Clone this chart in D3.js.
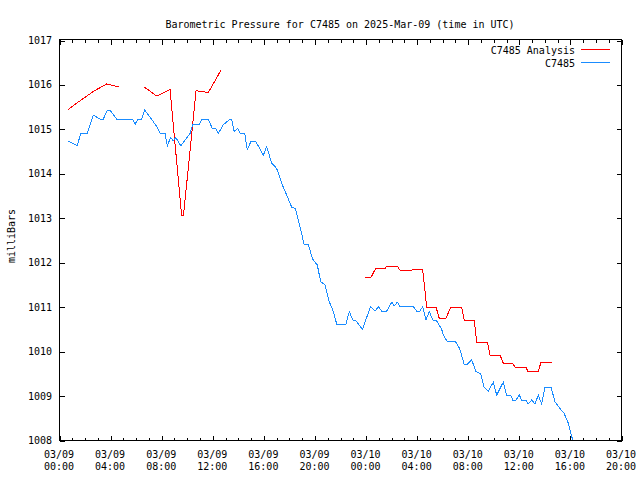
<!DOCTYPE html>
<html><head><meta charset="utf-8">
<script src="https://cdn.jsdelivr.net/npm/d3@7"></script>
<style>body{margin:0;background:#fff}svg text{font-family:"DejaVu Sans Mono","Liberation Mono",monospace;font-size:10px;fill:#000}</style>
</head><body>
<script>
const title = "Barometric Pressure for C7485 on 2025-Mar-09 (time in UTC)";
const yLabel = "milliBars";
const seriesNames = ["C7485 Analysis", "C7485"];
const seriesColors = ["#ff0000", "#1a8cff"];
const yTickValues = [1008, 1009, 1010, 1011, 1012, 1013, 1014, 1015, 1016, 1017];
const xTickHours = [0, 4, 8, 12, 16, 20, 24, 28, 32, 36, 40, 44];
const xTickDates = ["03/09", "03/09", "03/09", "03/09", "03/09", "03/09", "03/10", "03/10", "03/10", "03/10", "03/10", "03/10"];
const xTickTimes = ["00:00", "04:00", "08:00", "12:00", "16:00", "20:00", "00:00", "04:00", "08:00", "12:00", "16:00", "20:00"];

// hours since 2025-03-09 00:00 UTC; null = gap
const analysisHours = [0.73, 1.73, 2.73, 3.73, 4.70, 5.70,
  6.68, 7.65, 8.69, 9.60, 9.75, 10.73, 11.69, 12.68, 13.70,
  23.96, 24.43, 24.79, 25.52, 25.66, 26.49, 26.70, 27.61, 27.69, 28.47, 28.79, 29.52, 29.77, 30.30,
  30.67, 31.53, 31.73, 32.51, 32.70, 33.55, 33.74, 34.53, 34.78, 35.52, 35.70, 36.56, 36.70, 37.52, 37.74, 38.57];
const analysisValues = [1015.44, 1015.65, 1015.85, 1016.01, 1015.94, null,
  1015.94, 1015.74, 1015.89, 1013.06, 1013.06, 1015.86, 1015.82, 1016.32, null,
  1011.66, 1011.66, 1011.86, 1011.86, 1011.91, 1011.91, 1011.82, 1011.82, 1011.84, 1011.84, 1010.99, 1010.99, 1010.74, 1010.74,
  1010.99, 1010.99, 1010.70, 1010.70, 1010.20, 1010.20, 1009.91, 1009.91, 1009.73, 1009.73, 1009.64, 1009.64, 1009.55, 1009.55, 1009.75, 1009.75];

const obsHours = [0.73, 1.43, 1.70, 2.22, 2.69, 3.21, 3.47, 3.78, 3.99, 4.52, 5.77, 5.97, 6.18, 6.47, 6.71, 7.12, 7.65, 7.91, 8.30, 8.48,
  8.75, 8.95, 9.14, 9.53, 10.00, 10.26, 10.47, 10.96, 11.22, 11.69, 12.00, 12.27, 12.47, 12.86, 13.39, 13.52, 13.72, 13.99, 14.17, 14.54,
  14.74, 15.01, 15.42, 16.00, 16.26, 16.65, 17.04, 17.51, 17.83, 18.22, 18.50, 18.87, 19.18, 19.52, 19.86, 20.22, 20.49, 20.83, 21.16, 21.48,
  21.74, 22.47, 22.73, 22.99, 23.25, 23.76, 24.39, 24.74, 25.00, 25.26, 25.66, 26.05, 26.25, 26.49, 26.70, 27.74, 28.00, 28.26, 28.47, 28.73,
  28.99, 29.26, 29.57, 29.96, 30.09, 30.40, 31.04, 31.37, 31.71, 31.97, 32.31, 32.65, 33.02, 33.27, 33.61, 34.00, 34.27, 34.78, 35.05, 35.36,
  35.52, 35.78, 36.04, 36.22, 36.56, 36.74, 37.01, 37.27, 37.52, 37.79, 38.05, 38.52, 38.83, 39.22, 39.54, 39.87, 40.40];
const obsValues = [1014.73, 1014.62, 1014.90, 1014.90, 1015.31, 1015.22, 1015.22, 1015.42, 1015.42, 1015.22, 1015.22, 1015.11, 1015.22, 1015.22, 1015.42, 1015.27, 1015.05, 1014.90, 1014.90, 1014.62,
  1014.81, 1014.73, 1014.81, 1014.62, 1014.80, 1014.90, 1015.10, 1015.10, 1015.22, 1015.22, 1015.01, 1015.01, 1014.90, 1015.09, 1015.22, 1015.22, 1014.94, 1015.01, 1014.90, 1014.90,
  1014.53, 1014.71, 1014.71, 1014.41, 1014.60, 1014.23, 1014.11, 1013.72, 1013.51, 1013.24, 1013.21, 1012.80, 1012.41, 1012.39, 1012.07, 1011.94, 1011.56, 1011.49, 1011.11, 1010.89,
  1010.61, 1010.61, 1010.89, 1010.70, 1010.68, 1010.49, 1011.00, 1010.90, 1011.00, 1010.90, 1010.90, 1011.10, 1011.02, 1011.10, 1011.00, 1011.00, 1010.90, 1010.90, 1011.00, 1010.70,
  1010.89, 1010.70, 1010.68, 1010.49, 1010.36, 1010.21, 1010.21, 1010.06, 1009.71, 1009.71, 1009.80, 1009.54, 1009.49, 1009.19, 1009.10, 1009.30, 1009.01, 1009.30, 1009.01, 1009.01,
  1008.90, 1008.90, 1009.01, 1008.90, 1008.90, 1008.81, 1008.90, 1008.81, 1009.01, 1008.81, 1009.19, 1009.19, 1008.86, 1008.71, 1008.60, 1008.38, 1007.80];

const W = 640, H = 480;
const base = Date.UTC(2025, 2, 9, 0, 0);
const toDate = h => new Date(base + h * 3600e3);
const L = 59, R = 621, T = 40, B = 440;

const svg = d3.select("body").append("svg").attr("width", W).attr("height", H);
svg.append("rect").attr("width", W).attr("height", H).attr("fill", "#fff");

const x = d3.scaleUtc().domain([toDate(0), toDate(44)]).range([L, R]);
const y = d3.scaleLinear().domain([1008, 1017]).range([B, T]);

svg.append("defs").append("clipPath").attr("id", "clip")
  .append("rect").attr("x", L).attr("y", T).attr("width", R - L).attr("height", B - T);

// Axes (ticks inward, mirrored)
const hourTicks = d3.range(0, 45).map(toDate);
const majorTicks = xTickHours.map(toDate);
function styleAxis(g) {
  g.select(".domain").remove();
  g.selectAll("line").attr("stroke", "#000").attr("shape-rendering", "crispEdges");
  g.selectAll("text").remove();
}
svg.append("g").attr("transform", `translate(0.5,${B + 0.5})`)
  .call(d3.axisBottom(x).tickValues(hourTicks).tickSize(-3)).call(styleAxis);
svg.append("g").attr("transform", `translate(0.5,${B + 0.5})`)
  .call(d3.axisBottom(x).tickValues(majorTicks).tickSize(-5)).call(styleAxis);
svg.append("g").attr("transform", `translate(0.5,${T - 0.5})`)
  .call(d3.axisTop(x).tickValues(hourTicks).tickSize(-3)).call(styleAxis);
svg.append("g").attr("transform", `translate(0.5,${T - 0.5})`)
  .call(d3.axisTop(x).tickValues(majorTicks).tickSize(-5)).call(styleAxis);
svg.append("g").attr("transform", `translate(${L + 0.5},0.5)`)
  .call(d3.axisLeft(y).tickValues(yTickValues).tickSize(-5)).call(styleAxis);
svg.append("g").attr("transform", `translate(${R + 0.5},0.5)`)
  .call(d3.axisRight(y).tickValues(yTickValues).tickSize(-5)).call(styleAxis);

// border
svg.append("rect").attr("x", L + 0.5).attr("y", T - 0.5).attr("width", R - L).attr("height", B - T + 1)
  .attr("fill", "none").attr("stroke", "#000").attr("shape-rendering", "crispEdges");

// y tick labels
svg.append("g").selectAll("text").data(yTickValues).join("text")
  .attr("x", L - 7).attr("y", d => y(d) + 4).attr("text-anchor", "end").text(d => d);

// x tick labels
const xl = svg.append("g").selectAll("text").data(xTickHours).join("text")
  .attr("text-anchor", "middle");
xl.append("tspan").attr("x", (d) => x(toDate(d))).attr("y", 458).text((d, i) => xTickDates[i]);
xl.append("tspan").attr("x", (d) => x(toDate(d))).attr("y", 470).text((d, i) => xTickTimes[i]);

// title and y label
svg.append("text").attr("x", (L + R) / 2).attr("y", 28).attr("text-anchor", "middle").text(title);
svg.append("text").attr("transform", "translate(15,236) rotate(-90)").attr("text-anchor", "middle").text(yLabel);

// lines
const plot = svg.append("g").attr("clip-path", "url(#clip)");
const line = d3.line().defined(d => d.v != null).x(d => x(toDate(d.h))).y(d => y(d.v));
const analysis = analysisHours.map((h, i) => ({h, v: analysisValues[i]}));
const obs = obsHours.map((h, i) => ({h, v: obsValues[i]}));
plot.append("path").datum(analysis).attr("d", line).attr("fill", "none")
  .attr("stroke", seriesColors[0]).attr("stroke-width", 1).attr("shape-rendering", "crispEdges");
plot.append("path").datum(obs).attr("d", line).attr("fill", "none")
  .attr("stroke", seriesColors[1]).attr("stroke-width", 1).attr("shape-rendering", "crispEdges");

// legend
const leg = svg.append("g");
seriesNames.forEach((name, i) => {
  const ly = 49.5 + i * 13;
  leg.append("text").attr("x", 575).attr("y", ly + 4).attr("text-anchor", "end").text(name);
  leg.append("line").attr("x1", 581).attr("x2", 610).attr("y1", ly).attr("y2", ly)
    .attr("stroke", seriesColors[i]).attr("shape-rendering", "crispEdges");
});
</script>
</body></html>
